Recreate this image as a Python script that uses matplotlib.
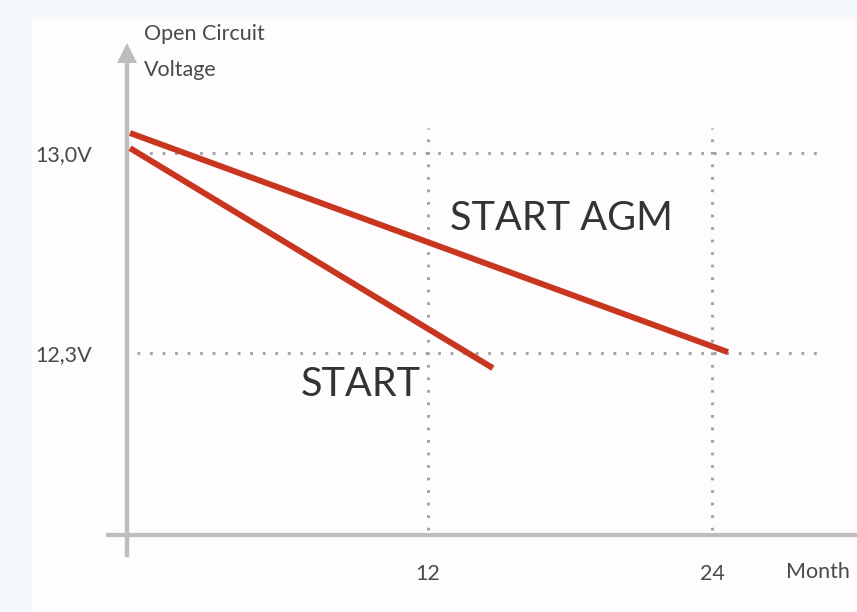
import matplotlib
matplotlib.use("Agg")
import matplotlib.pyplot as plt
from matplotlib.patches import Rectangle

plt.rcParams['font.family'] = ['Lato', 'DejaVu Sans']

# data (months, volts)
agm_x = [-0.59, 24.67]
agm_y = [13.07, 12.303]
start_x = [-0.59, 14.74]
start_y = [13.017, 12.247]

ytick_vals = [13.0, 12.3]
ytick_labels = ["13,0V", "12,3V"]
xtick_vals = [12, 24]
xtick_labels = ["12", "24"]

text_col = "#4a4a4a"
red = "#c9361f"
axis_col = "#bdbdbd"
dot_col = "#a3a3a3"

W, H = 857, 612
fig = plt.figure(figsize=(W / 100, H / 100), dpi=100)
fig.patch.set_facecolor("#f3f8fc")
# white panel behind everything
panel = Rectangle((32 / W, 0), 1, 1 - 17 / H, transform=fig.transFigure,
                  facecolor="#fefcfd", edgecolor="none", zorder=-10)
fig.add_artist(panel)

# axes box in pixels: left 108, right 857, top 40, bottom 555
ax = fig.add_axes([108 / W, (H - 555) / H, (857 - 108) / W, (555 - 40) / H])
ax.set_facecolor("none")
ax.set_xlim(-1.52, 30.12)
ax.set_ylim(11.593, 13.3955)

x0 = -0.72   # where the y axis sits
y0 = 11.663  # where the x axis sits

# grid (dotted)
ax.hlines(ytick_vals, -0.3, 28.64, colors=dot_col, linewidth=2.2,
          linestyles=(0, (0.9, 3.2)), zorder=1)
ax.vlines(xtick_vals, 11.68, 13.0875, colors=dot_col, linewidth=2.2,
          linestyles=(0, (0.9, 3.2)), zorder=1)

# series
ax.plot(agm_x, agm_y, color=red, linewidth=4.3, solid_capstyle="butt", zorder=3)
ax.plot(start_x, start_y, color=red, linewidth=4.3, solid_capstyle="butt", zorder=3)

ax.text(12.93, 12.77, "START AGM", fontsize=28.5, color="#333333", ha="left", va="center")
ax.text(6.6, 12.19, "START", fontsize=28.5, color="#333333", ha="left", va="center")

# axes
for s in ["top", "right"]:
    ax.spines[s].set_visible(False)
ax.spines["left"].set_position(("data", x0))
ax.spines["bottom"].set_position(("data", y0))
ax.spines["left"].set_color(axis_col)
ax.spines["left"].set_linewidth(3.2)
ax.spines["bottom"].set_color(axis_col)
ax.spines["bottom"].set_linewidth(3.0)
ax.spines["left"].set_bounds(11.593, 13.33)
ax.plot([x0], [13.35], marker="^", markersize=14, color=axis_col,
        markeredgewidth=0, clip_on=False, zorder=2)

ax.set_yticks(ytick_vals, ytick_labels)
ax.set_xticks(xtick_vals, xtick_labels)
ax.tick_params(axis="y", length=0, pad=25, labelsize=15.5, labelcolor=text_col)
ax.tick_params(axis="x", length=0, pad=21, labelsize=15.5, labelcolor=text_col)

ax.text(27.1, y0 - 0.095, "Month", fontsize=15.5, color=text_col, ha="left", va="top",
        clip_on=False)

ax.text(0.0, 13.355, "Open Circuit\nVoltage", fontsize=15.5, color=text_col,
        ha="left", va="center", linespacing=2.0, clip_on=False)

fig.savefig("out.png", dpi=100, facecolor=fig.get_facecolor())
